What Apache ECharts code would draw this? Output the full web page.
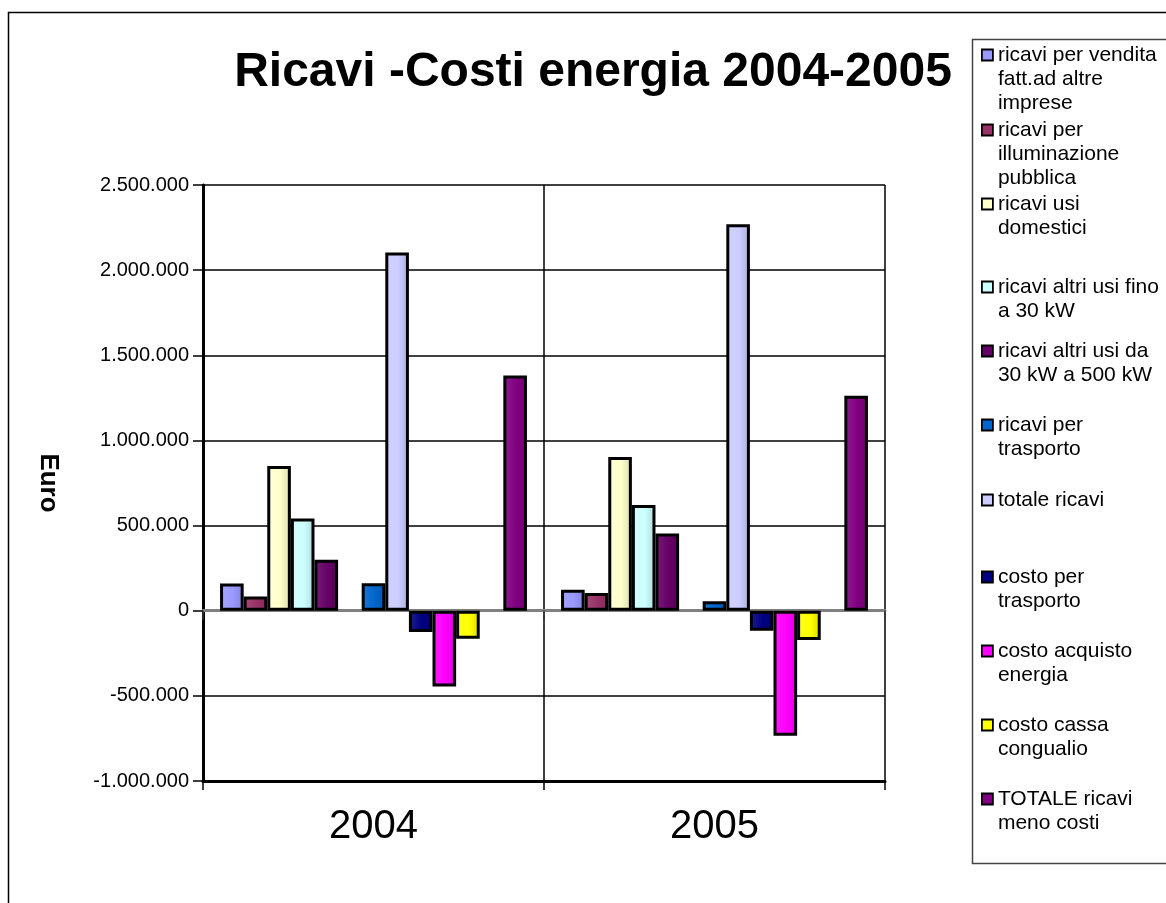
<!DOCTYPE html>
<html>
<head>
<meta charset="utf-8">
<script src="https://cdn.jsdelivr.net/npm/echarts@6/dist/echarts.min.js"></script>
<style>
html, body { margin: 0; padding: 0; background: #fff; }
#chart { width: 1166px; height: 903px; }
</style>
</head>
<body>
<div id="chart"></div>
<script>
// dati (euro)
var anni = ['2004', '2005'];
var venditaAltreImprese = [160000, 123000];
var illuminazionePubblica = [83000, 104000];
var usiDomestici = [850000, 903000];
var usiFino30 = [541000, 621000];
var usi30a500 = [300000, 453000];
var vuoto1 = [null, null];
var ricaviTrasporto = [162000, 55000];
var totaleRicavi = [2104000, 2270000];
var costoTrasporto = [-125000, -117000];
var costoAcquisto = [-445000, -735000];
var cassaConguaglio = [-164000, -172000];
var vuoto2 = [null, null];
var totaleNetto = [1382000, 1262000];

var nomi = [
    'ricavi per vendita fatt.ad altre imprese',
    'ricavi per illuminazione pubblica',
    'ricavi usi domestici',
    'ricavi altri usi fino a 30 kW',
    'ricavi altri usi da 30 kW a 500 kW',
    '',
    'ricavi per trasporto',
    'totale ricavi',
    'costo per trasporto',
    'costo acquisto energia',
    'costo cassa congualio',
    ' ',
    'TOTALE ricavi meno costi'
];
var valori = [venditaAltreImprese, illuminazionePubblica, usiDomestici, usiFino30, usi30a500, vuoto1,
    ricaviTrasporto, totaleRicavi, costoTrasporto, costoAcquisto, cassaConguaglio, vuoto2, totaleNetto];
var colori = ['#9999FF', '#993366', '#FFFFCC', '#CCFFFF', '#660066', '#FFFFFF',
    '#0066CC', '#CCCCFF', '#000080', '#FF00FF', '#FFFF00', '#FFFFFF', '#800080'];

// righe della legenda (come a capo nell'originale)
var righeLegenda = [
    ['ricavi per vendita', 'fatt.ad altre', 'imprese'],
    ['ricavi per', 'illuminazione', 'pubblica'],
    ['ricavi usi', 'domestici'],
    ['ricavi altri usi fino', 'a 30 kW'],
    ['ricavi altri usi da', '30 kW a 500 kW'],
    null,
    ['ricavi per', 'trasporto'],
    ['totale ricavi'],
    ['costo per', 'trasporto'],
    ['costo acquisto', 'energia'],
    ['costo cassa', 'congualio'],
    null,
    ['TOTALE ricavi', 'meno costi']
];
var yLegenda = [55, 130, 204, 287, 351, null, 425, 500, 577, 651, 725, null, 799];

var FONT = '"Liberation Sans", Arial, sans-serif';
var LH = 24;

function mix(hex, target, t) {
    var r = parseInt(hex.substr(1, 2), 16), g = parseInt(hex.substr(3, 2), 16), b = parseInt(hex.substr(5, 2), 16);
    r = Math.round(r + (target - r) * t);
    g = Math.round(g + (target - g) * t);
    b = Math.round(b + (target - b) * t);
    return 'rgb(' + r + ',' + g + ',' + b + ')';
}

function formatEuro(v) {
    var s = Math.abs(v).toString().replace(/\B(?=(\d{3})+(?!\d))/g, '.');
    return (v < 0 ? '-' : '') + s;
}

var serie = nomi.map(function (n, i) {
    return {
        name: n,
        type: 'bar',
        data: valori[i],
        barGap: '0%',
        barCategoryGap: '10%',
        itemStyle: {
            color: new echarts.graphic.LinearGradient(0, 0, 1, 0, [
                {offset: 0, color: mix(colori[i], 255, 0.12)},
                {offset: 0.55, color: colori[i]},
                {offset: 1, color: mix(colori[i], 0, 0.15)}
            ]),
            borderColor: '#000',
            borderWidth: 3
        }
    };
});

// una legenda per voce: righe vuote davanti per allineare il quadratino alla prima riga
var legende = [];
nomi.forEach(function (n, i) {
    var righe = righeLegenda[i];
    if (!righe) return;
    var k = righe.length;
    var testo = new Array(k).join('\n') + righe.join('\n');
    legende.push({
        orient: 'vertical',
        left: 981,
        top: yLegenda[i] - (2 * k - 1) * LH / 2,
        padding: 0,
        itemWidth: 11,
        itemHeight: 11,
        icon: 'rect',
        selectedMode: false,
        data: [{name: n, itemStyle: {color: colori[i], borderColor: '#000', borderWidth: 1.8}}],
        formatter: function () { return testo; },
        textStyle: {fontFamily: FONT, fontSize: 21, lineHeight: LH, color: '#000'}
    });
});

var chart = echarts.init(document.getElementById('chart'));
chart.setOption({
    backgroundColor: '#fff',
    animation: false,
    title: {
        text: 'Ricavi -Costi energia 2004-2005',
        left: 588,
        textAlign: 'center',
        top: 44,
        textStyle: {fontFamily: FONT, fontSize: 48, fontWeight: 'bold', color: '#000'}
    },
    graphic: [
        {type: 'rect', shape: {x: 8.5, y: 12.5, width: 1300, height: 1000},
            style: {fill: 'none', stroke: '#000', lineWidth: 1.5}, silent: true},
        {type: 'rect', shape: {x: 972.5, y: 39.5, width: 300, height: 824},
            style: {fill: 'none', stroke: '#444', lineWidth: 1.5}, silent: true}
    ],
    legend: legende,
    grid: {left: 203, right: 281, top: 185, bottom: 122, containLabel: false},
    xAxis: [
        {
            type: 'category',
            data: anni,
            position: 'bottom',
            axisLine: {onZero: false, lineStyle: {color: '#000', width: 3}},
            axisTick: {show: true, length: 9, lineStyle: {color: '#000', width: 1.5}},
            axisLabel: {fontFamily: FONT, fontSize: 40, color: '#000', margin: 26},
            splitLine: {show: true, lineStyle: {color: '#000', width: 1.5}}
        },
        {
            type: 'category',
            data: anni,
            position: 'bottom',
            axisLine: {onZero: true, lineStyle: {color: '#808080', width: 3}},
            axisTick: {show: true, length: 9, lineStyle: {color: '#333', width: 1.5}},
            axisLabel: {show: false},
            splitLine: {show: false}
        }
    ],
    yAxis: {
        type: 'value',
        min: -1000000,
        max: 2500000,
        interval: 500000,
        name: 'Euro',
        nameLocation: 'middle',
        nameRotate: -90,
        nameGap: 142,
        nameTextStyle: {fontFamily: FONT, fontSize: 26, fontWeight: 'bold', color: '#000'},
        axisLine: {show: true, lineStyle: {color: '#000', width: 3}},
        axisTick: {show: true, length: 10, lineStyle: {color: '#000', width: 1.5}},
        axisLabel: {fontFamily: FONT, fontSize: 20, color: '#000', margin: 14, formatter: formatEuro},
        splitLine: {show: true, lineStyle: {color: '#000', width: 1.5}}
    },
    series: serie
});
</script>
</body>
</html>
